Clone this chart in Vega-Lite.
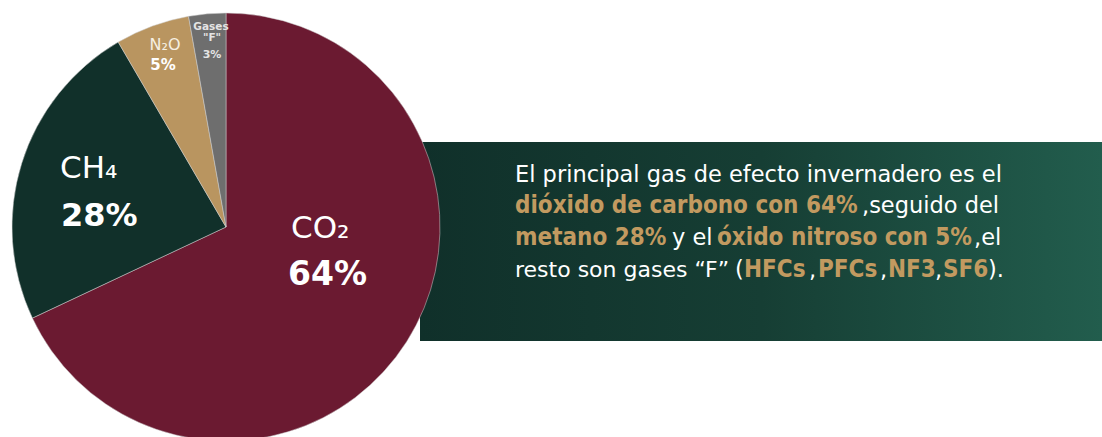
{
  "$schema": "https://vega.github.io/schema/vega-lite/v6.json",
  "width": 1102,
  "height": 437,
  "padding": 0,
  "autosize": {"type": "none"},
  "background": "#ffffff",
  "config": {"view": {"stroke": null}},
  "layer": [
    {
      "data": {"values": [{"band": "banner"}]},
      "mark": {
        "type": "rect", "x": 420, "x2": 1102, "y": 142, "y2": 341,
        "fill": {"gradient": "linear", "x1": 0, "y1": 0, "x2": 1, "y2": 0,
          "stops": [{"offset": 0, "color": "#10302a"}, {"offset": 0.5, "color": "#163e34"}, {"offset": 1, "color": "#225d4d"}]}
      },
      "encoding": {}
    },
    {
      "data": {"values": [
        {"gas": "CO2", "share": 68.0, "idx": 1},
        {"gas": "CH4", "share": 23.6, "idx": 2},
        {"gas": "N2O", "share": 5.6, "idx": 3},
        {"gas": "F", "share": 2.8, "idx": 4}
      ]},
      "mark": {"type": "arc", "outerRadius": 214, "x": 226, "y": 227, "stroke": "#d0d0d0", "strokeWidth": 0.5},
      "encoding": {
        "theta": {"field": "share", "type": "quantitative", "stack": true},
        "order": {"field": "idx", "type": "quantitative"},
        "color": {"field": "gas", "type": "nominal", "legend": null,
          "scale": {"domain": ["CO2", "CH4", "N2O", "F"], "range": ["#6b1a31", "#11302a", "#b99560", "#6e6e6e"]}}
      }
    },
    {"data": {"values": [{"t": "CO₂"}]}, "mark": {"type": "text", "x": 291, "y": 238, "align": "left", "baseline": "alphabetic", "font": "DejaVu Sans", "fontSize": 31, "color": "#ffffff"}, "encoding": {"text": {"field": "t"}}},
    {"data": {"values": [{"t": "64%"}]}, "mark": {"type": "text", "x": 288, "y": 285, "align": "left", "baseline": "alphabetic", "font": "DejaVu Sans", "fontWeight": "bold", "fontSize": 33, "color": "#ffffff"}, "encoding": {"text": {"field": "t"}}},
    {"data": {"values": [{"t": "CH₄"}]}, "mark": {"type": "text", "x": 60, "y": 178, "align": "left", "baseline": "alphabetic", "font": "DejaVu Sans", "fontSize": 31, "color": "#ffffff"}, "encoding": {"text": {"field": "t"}}},
    {"data": {"values": [{"t": "28%"}]}, "mark": {"type": "text", "x": 61, "y": 226, "align": "left", "baseline": "alphabetic", "font": "DejaVu Sans", "fontWeight": "bold", "fontSize": 32, "color": "#ffffff"}, "encoding": {"text": {"field": "t"}}},
    {"data": {"values": [{"t": "N₂O"}]}, "mark": {"type": "text", "x": 165, "y": 50, "align": "center", "baseline": "alphabetic", "font": "DejaVu Sans", "fontSize": 16, "color": "#f6efe2"}, "encoding": {"text": {"field": "t"}}},
    {"data": {"values": [{"t": "5%"}]}, "mark": {"type": "text", "x": 163, "y": 70, "align": "center", "baseline": "alphabetic", "font": "DejaVu Sans", "fontWeight": "bold", "fontSize": 15, "color": "#ffffff"}, "encoding": {"text": {"field": "t"}}},
    {"data": {"values": [{"t": "Gases"}]}, "mark": {"type": "text", "x": 211, "y": 30, "align": "center", "baseline": "alphabetic", "font": "DejaVu Sans", "fontWeight": "bold", "fontSize": 10.5, "color": "#e4e4e4"}, "encoding": {"text": {"field": "t"}}},
    {"data": {"values": [{"t": "\"F\""}]}, "mark": {"type": "text", "x": 212, "y": 41, "align": "center", "baseline": "alphabetic", "font": "DejaVu Sans", "fontWeight": "bold", "fontSize": 10.5, "color": "#e4e4e4"}, "encoding": {"text": {"field": "t"}}},
    {"data": {"values": [{"t": "3%"}]}, "mark": {"type": "text", "x": 212, "y": 58, "align": "center", "baseline": "alphabetic", "font": "DejaVu Sans", "fontWeight": "bold", "fontSize": 11, "color": "#e4e4e4"}, "encoding": {"text": {"field": "t"}}},

    {"data": {"values": [{"t": "El principal gas de efecto invernadero es el"}]}, "mark": {"type": "text", "x": 515, "y": 182, "align": "left", "baseline": "alphabetic", "font": "DejaVu Sans", "fontSize": 22.5, "color": "#ffffff"}, "encoding": {"text": {"field": "t"}}},
    {"data": {"values": [{"t": "dióxido de carbono con 64%"}]}, "mark": {"type": "text", "x": 515, "y": 213, "align": "left", "baseline": "alphabetic", "font": "DejaVu Sans Condensed", "fontWeight": "bold", "fontSize": 24, "color": "#c29a60"}, "encoding": {"text": {"field": "t"}}},
    {"data": {"values": [{"t": ",seguido del"}]}, "mark": {"type": "text", "x": 862, "y": 213, "align": "left", "baseline": "alphabetic", "font": "DejaVu Sans", "fontSize": 22.5, "color": "#ffffff"}, "encoding": {"text": {"field": "t"}}},
    {"data": {"values": [{"t": "metano 28%"}]}, "mark": {"type": "text", "x": 515, "y": 245, "align": "left", "baseline": "alphabetic", "font": "DejaVu Sans Condensed", "fontWeight": "bold", "fontSize": 24, "color": "#c29a60"}, "encoding": {"text": {"field": "t"}}},
    {"data": {"values": [{"t": "y el"}]}, "mark": {"type": "text", "x": 672, "y": 245, "align": "left", "baseline": "alphabetic", "font": "DejaVu Sans", "fontSize": 22.5, "color": "#ffffff"}, "encoding": {"text": {"field": "t"}}},
    {"data": {"values": [{"t": "óxido nitroso con 5%"}]}, "mark": {"type": "text", "x": 717, "y": 245, "align": "left", "baseline": "alphabetic", "font": "DejaVu Sans Condensed", "fontWeight": "bold", "fontSize": 24, "color": "#c29a60"}, "encoding": {"text": {"field": "t"}}},
    {"data": {"values": [{"t": ",el"}]}, "mark": {"type": "text", "x": 974, "y": 245, "align": "left", "baseline": "alphabetic", "font": "DejaVu Sans", "fontSize": 22.5, "color": "#ffffff"}, "encoding": {"text": {"field": "t"}}},
    {"data": {"values": [{"t": "resto son gases “F”"}]}, "mark": {"type": "text", "x": 515, "y": 277, "align": "left", "baseline": "alphabetic", "font": "DejaVu Sans", "fontSize": 22, "color": "#ffffff"}, "encoding": {"text": {"field": "t"}}},
    {"data": {"values": [{"t": "("}]}, "mark": {"type": "text", "x": 735, "y": 277, "align": "left", "baseline": "alphabetic", "font": "DejaVu Sans", "fontSize": 22.5, "color": "#ffffff"}, "encoding": {"text": {"field": "t"}}},
    {"data": {"values": [{"t": "HFCs"}]}, "mark": {"type": "text", "x": 744, "y": 277, "align": "left", "baseline": "alphabetic", "font": "DejaVu Sans Condensed", "fontWeight": "bold", "fontSize": 24, "color": "#c29a60"}, "encoding": {"text": {"field": "t"}}},
    {"data": {"values": [{"t": ","}]}, "mark": {"type": "text", "x": 809, "y": 277, "align": "left", "baseline": "alphabetic", "font": "DejaVu Sans", "fontSize": 22.5, "color": "#ffffff"}, "encoding": {"text": {"field": "t"}}},
    {"data": {"values": [{"t": "PFCs"}]}, "mark": {"type": "text", "x": 818, "y": 277, "align": "left", "baseline": "alphabetic", "font": "DejaVu Sans Condensed", "fontWeight": "bold", "fontSize": 24, "color": "#c29a60"}, "encoding": {"text": {"field": "t"}}},
    {"data": {"values": [{"t": ","}]}, "mark": {"type": "text", "x": 880, "y": 277, "align": "left", "baseline": "alphabetic", "font": "DejaVu Sans", "fontSize": 22.5, "color": "#ffffff"}, "encoding": {"text": {"field": "t"}}},
    {"data": {"values": [{"t": "NF3"}]}, "mark": {"type": "text", "x": 888, "y": 277, "align": "left", "baseline": "alphabetic", "font": "DejaVu Sans Condensed", "fontWeight": "bold", "fontSize": 24, "color": "#c29a60"}, "encoding": {"text": {"field": "t"}}},
    {"data": {"values": [{"t": ","}]}, "mark": {"type": "text", "x": 935, "y": 277, "align": "left", "baseline": "alphabetic", "font": "DejaVu Sans", "fontSize": 22.5, "color": "#ffffff"}, "encoding": {"text": {"field": "t"}}},
    {"data": {"values": [{"t": "SF6"}]}, "mark": {"type": "text", "x": 943, "y": 277, "align": "left", "baseline": "alphabetic", "font": "DejaVu Sans Condensed", "fontWeight": "bold", "fontSize": 24, "color": "#c29a60"}, "encoding": {"text": {"field": "t"}}},
    {"data": {"values": [{"t": ")."}]}, "mark": {"type": "text", "x": 988, "y": 277, "align": "left", "baseline": "alphabetic", "font": "DejaVu Sans", "fontSize": 22.5, "color": "#ffffff"}, "encoding": {"text": {"field": "t"}}}
  ]
}
